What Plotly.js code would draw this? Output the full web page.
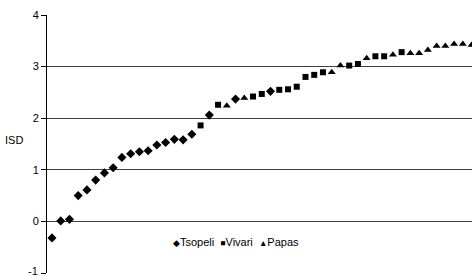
<!DOCTYPE html>
<html>
<head>
<meta charset="utf-8">
<script src="https://cdn.plot.ly/plotly-3.0.1.min.js"></script>
<style>html,body{margin:0;padding:0;background:#fff;}#chart{width:472px;height:277px;}</style>
</head>
<body>
<div id="chart"></div>
<script>
// Rank index (x) and ISD value (y) per site
const tsopeliX = [1,2,3,4,5,6,7,8,9,10,11,12,13,14,15,16,17,19,22,26];
const tsopeliY = [-0.32,0.01,0.04,0.50,0.61,0.80,0.94,1.04,1.24,1.31,1.35,1.37,1.48,1.53,1.59,1.58,1.69,2.06,2.37,2.52];
const vivariX = [18,20,24,25,27,28,29,30,31,32,35,36,38,39,41];
const vivariY = [1.86,2.26,2.42,2.47,2.55,2.56,2.61,2.80,2.84,2.89,3.02,3.05,3.20,3.20,3.28];
const papasX = [21,23,33,34,37,40,42,43,44,45,46,47,48,49];
const papasY = [2.24,2.39,2.89,3.02,3.16,3.23,3.26,3.26,3.32,3.40,3.40,3.44,3.44,3.42];
const yTicks = [-1,0,1,2,3,4];
const seriesNames = ['Tsopeli','Vivari','Papas'];
const legendGlyphs = ['\u25C6','\u25A0','\u25B2'];

const fam = 'Liberation Sans, Arial, sans-serif';
const font = {family: fam, size: 11, color: '#000'};
const traces = [
  {x: tsopeliX, y: tsopeliY, name: seriesNames[0], type: 'scatter', mode: 'markers',
   marker: {symbol: 'diamond', size: 7, color: '#000'}},
  {x: vivariX, y: vivariY, name: seriesNames[1], type: 'scatter', mode: 'markers',
   marker: {symbol: 'square', size: 6, color: '#000'}},
  {x: papasX, y: papasY, name: seriesNames[2], type: 'scatter', mode: 'markers',
   marker: {symbol: 'triangle-up', size: 7, color: '#000'}}
];
const legendText = seriesNames.map((n, i) =>
  '<span style="font-size:8.5px">' + legendGlyphs[i] + '</span>' + n).join('  ');
const layout = {
  width: 472, height: 277,
  margin: {l: 47, r: 0, t: 15, b: 4, pad: 0},
  paper_bgcolor: '#fff', plot_bgcolor: '#fff',
  font: font,
  showlegend: false,
  xaxis: {range: [0.43, 49.05], visible: false, showgrid: false, zeroline: false},
  yaxis: {range: [-1, 4], tickvals: yTicks,
    ticktext: yTicks.map(v => v === -1 ? '' : String(v)),
    showline: true, linecolor: '#000', linewidth: 1,
    ticks: 'outside', ticklen: 5, tickcolor: '#000', tickwidth: 1,
    showgrid: true, gridcolor: '#404040', gridwidth: 1, zeroline: false,
    tickfont: font},
  annotations: [
    {text: 'ISD', xref: 'paper', yref: 'y', x: -0.078, y: 1.57,
     showarrow: false, font: font, xanchor: 'center', yanchor: 'middle'},
    {text: String(yTicks[0]), xref: 'paper', yref: 'y', x: -0.017, y: yTicks[0],
     showarrow: false, font: font, xanchor: 'right', yanchor: 'middle', yshift: 2},
    {text: legendText, xref: 'paper', yref: 'y', x: 0.445, y: -0.39,
     showarrow: false, font: {family: fam, size: 11, color: '#000'},
     xanchor: 'center', yanchor: 'middle'}
  ]
};
Plotly.newPlot('chart', traces, layout, {displayModeBar: false, staticPlot: true});
</script>
</body>
</html>
